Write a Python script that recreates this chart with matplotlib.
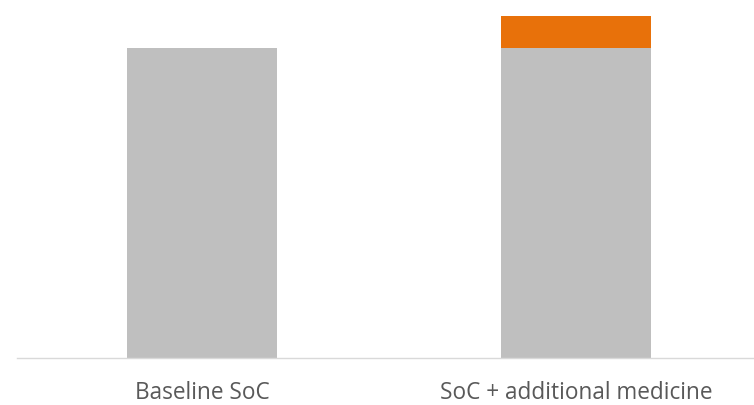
import matplotlib
matplotlib.use("Agg")
import matplotlib.pyplot as plt

categories = ["Baseline SoC", "SoC + additional medicine"]
base_values = [100, 100]
extra_values = [0, 10.3]

fig = plt.figure(figsize=(7.54, 4.06), dpi=100)
ax = fig.add_axes([17 / 754, 47 / 406, 737 / 754, 359 / 406])

x = range(len(categories))
ax.bar(x, base_values, width=0.40, color="#bfbfbf")
ax.bar(x, extra_values, bottom=base_values, width=0.40, color="#e8710a")

ax.set_xlim(-0.495, 1.476)
ax.set_ylim(0, 115.8)
ax.set_xticks(list(x))
ax.set_xticklabels(categories, fontsize=16.3, color="#595959", family="Open Sans")
ax.tick_params(axis="x", length=0, pad=15.5)
ax.set_yticks([])
for side in ["top", "right", "left"]:
    ax.spines[side].set_visible(False)
ax.spines["bottom"].set_color("#d9d9d9")
ax.spines["bottom"].set_linewidth(1)

fig.savefig("out.png", dpi=100)
